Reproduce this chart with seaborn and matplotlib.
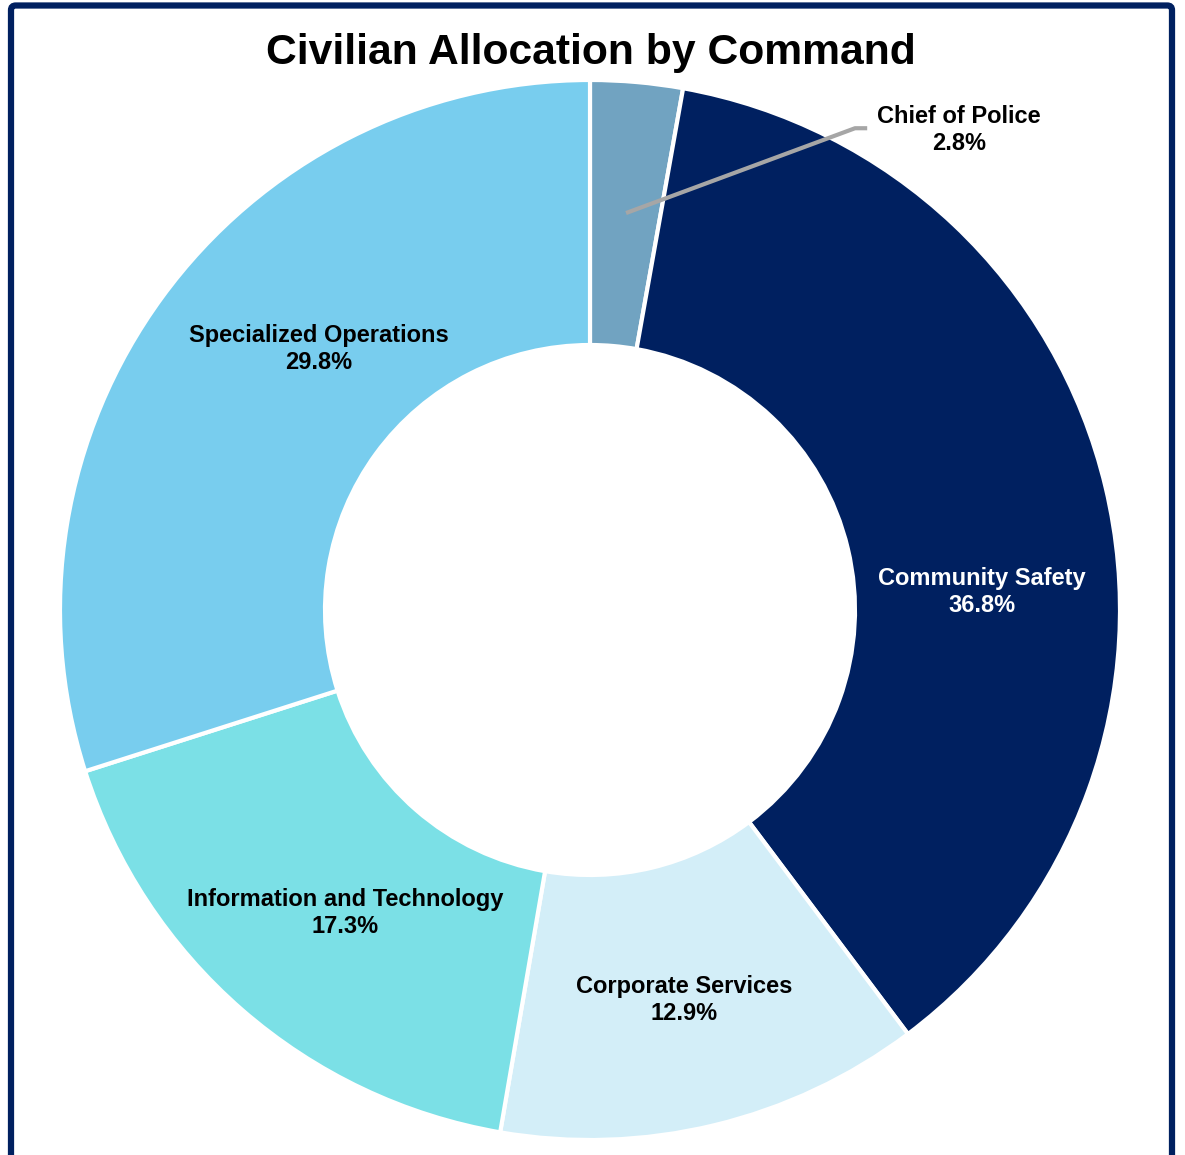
import matplotlib
matplotlib.use("Agg")
import matplotlib.pyplot as plt
import matplotlib.patches as mpatches
import seaborn as sns

# Civilian staff share by command (percent)
commands = ["Chief of Police", "Community Safety", "Corporate Services",
            "Information and Technology", "Specialized Operations"]
shares = [2.8, 36.8, 12.9, 17.3, 29.8]
colors = ["#71A3C1", "#002060", "#D3EEF8", "#7BE0E6", "#78CDEE"]
label_colors = ["black", "white", "black", "black", "black"]
# label anchor positions in pie units (radius = 1)
label_pos = [(0.696, 0.906), (0.740, 0.034), (0.177, -0.736),
             (-0.462, -0.572), (-0.511, 0.492)]

sns.set_theme(style="white")
plt.rcParams["font.family"] = ["Liberation Sans", "DejaVu Sans"]

W, H = 1185, 1155
fig = plt.figure(figsize=(W / 100, H / 100), dpi=100)
fig.patch.set_facecolor("white")

cx, cy, r = 590, 610, 530
ax = fig.add_axes([(cx - r) / W, (H - cy - r) / H, 2 * r / W, 2 * r / H])

ax.pie(shares, colors=colors, startangle=90, counterclock=False, radius=1,
       wedgeprops=dict(width=0.5, edgecolor="white", linewidth=3))
ax.set_xlim(-1, 1)
ax.set_ylim(-1, 1)
ax.set_aspect("equal")
ax.axis("off")

for name, val, (x, y), c in zip(commands, shares, label_pos, label_colors):
    ax.text(x, y, f"{name}\n{val:.1f}%", ha="center", va="center",
            fontsize=17, fontweight="bold", color=c, linespacing=1.22)

# leader line for the small slice
ax.plot([0.068, 0.50, 0.523], [0.749, 0.909, 0.909], color="#A6A6A6",
        linewidth=3, solid_capstyle="butt", clip_on=False)

fig.text(591 / W, 1 - 53 / H, "Civilian Allocation by Command",
         ha="center", va="center", fontsize=30.7, fontweight="bold", color="black")

# outer frame
frame = mpatches.FancyBboxPatch((11 / W, -20 / H), (1172 - 11) / W, (H - 5.5 + 20) / H,
                                boxstyle="round,pad=0,rounding_size=0.004",
                                transform=fig.transFigure, fill=False,
                                edgecolor="#002060", linewidth=4.5)
fig.patches.append(frame)

fig.savefig("out.png", dpi=100, facecolor="white")
